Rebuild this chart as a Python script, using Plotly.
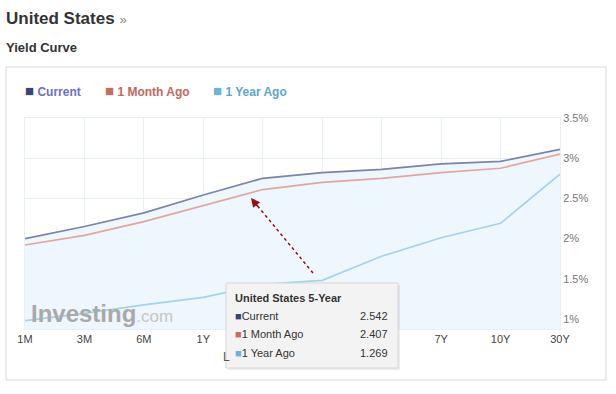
import plotly.graph_objects as go

# ---- data ----
maturities = ["1M", "3M", "6M", "1Y", "2Y", "3Y", "5Y", "7Y", "10Y", "30Y"]
current = [2.00, 2.15, 2.32, 2.542, 2.75, 2.82, 2.86, 2.93, 2.96, 3.11]
month_ago = [1.92, 2.04, 2.21, 2.407, 2.61, 2.70, 2.75, 2.82, 2.875, 3.05]
year_ago = [0.98, 1.07, 1.175, 1.269, 1.43, 1.48, 1.78, 2.01, 2.19, 2.80]
y_ticks = [1.0, 1.5, 2.0, 2.5, 3.0, 3.5]
y_tick_labels = ["1%", "1.5%", "2%", "2.5%", "3%", "3.5%"]
series_names = ["Current", "1 Month Ago", "1 Year Ago"]
tooltip_title = "United States 5-Year"
tooltip_index = 3

W, H = 616, 394
L, R, T, B = 25, 560, 118, 329
FONT = "Liberation Sans, Arial, sans-serif"


def px(x):
    return (x - L) / (R - L)


def py(y):
    return (B - y) / (B - T)


line_cols = ["#7c82aa", "#e2a69e", "#a3d3eb"]
square_cols = ["#3c4377", "#c96b5e", "#68b4da"]
text_cols = ["#6b72c4", "#c4685b", "#5ca8cc"]

fig = go.Figure()
fig.add_trace(go.Scatter(x=maturities, y=current, mode="lines", fill="tozeroy",
                         fillcolor="#eef7fe", line=dict(color=line_cols[0], width=1.7),
                         name=series_names[0], hoverinfo="skip"))
fig.add_trace(go.Scatter(x=maturities, y=month_ago, mode="lines",
                         line=dict(color=line_cols[1], width=1.7),
                         name=series_names[1], hoverinfo="skip"))
fig.add_trace(go.Scatter(x=maturities, y=year_ago, mode="lines",
                         line=dict(color=line_cols[2], width=1.7),
                         name=series_names[2], hoverinfo="skip"))

annotations = []
shapes = []

# page titles
annotations.append(dict(xref="paper", yref="paper", x=px(4), y=py(18), xanchor="left", yanchor="middle",
                        text="<b>United States</b> <span style='color:#888;font-size:13px'>»</span>",
                        showarrow=False, font=dict(family=FONT, size=17, color="#333")))
annotations.append(dict(xref="paper", yref="paper", x=px(4), y=py(47), xanchor="left", yanchor="middle",
                        text="<b>Yield Curve</b>", showarrow=False,
                        font=dict(family=FONT, size=13, color="#333")))

# outer box
shapes.append(dict(type="rect", xref="paper", yref="paper", x0=px(6), x1=px(606), y0=py(380), y1=py(67),
                   line=dict(color="#d9d9d9", width=1), fillcolor="rgba(0,0,0,0)", layer="below"))

# custom legend
leg_x = [23, 103, 211]
for i, name in enumerate(series_names):
    annotations.append(dict(xref="paper", yref="paper", x=px(leg_x[i]), y=py(91), xanchor="left",
                            yanchor="middle", showarrow=False,
                            text=f"<span style='color:{square_cols[i]};font-size:15px'>■</span> <b>{name}</b>",
                            font=dict(family=FONT, size=12, color=text_cols[i])))

# watermark
annotations.append(dict(xref="paper", yref="paper", x=px(29), y=py(313), xanchor="left", yanchor="middle",
                        showarrow=False,
                        text="<b>Investing</b><span style='font-size:17px;color:#c6c6c6'>.com</span>",
                        font=dict(family=FONT, size=24, color="#a9a9a9")))

# partially hidden axis caption (only its first letter shows beside the tooltip)
annotations.append(dict(xref="paper", yref="paper", x=px(221), y=py(357), xanchor="left", yanchor="middle",
                        showarrow=False, text="L",
                        font=dict(family=FONT, size=12, color="#555")))

# dashed arrow
shapes.append(dict(type="line", xref="paper", yref="paper", x0=px(313), y0=py(273), x1=px(256), y1=py(204),
                   line=dict(color="#9b0d0d", width=1.5, dash="dot"), layer="above"))
annotations.append(dict(xref="paper", yref="paper", x=px(251), y=py(198), ax=8, ay=10, axref="pixel",
                        ayref="pixel", text="", showarrow=True, arrowhead=2, arrowsize=1.2,
                        arrowwidth=1.5, arrowcolor="#9b0d0d", standoff=0))

# tooltip box (shadow + box)
shapes.append(dict(type="rect", xref="paper", yref="paper", x0=px(228), x1=px(400), y0=py(370), y1=py(285),
                   line=dict(width=0), fillcolor="rgba(0,0,0,0.07)", layer="above"))
shapes.append(dict(type="rect", xref="paper", yref="paper", x0=px(226), x1=px(398), y0=py(368), y1=py(283),
                   line=dict(color="#d6d6d6", width=1), fillcolor="#f3f3f3", layer="above"))
annotations.append(dict(xref="paper", yref="paper", x=px(233), y=py(298), xanchor="left", yanchor="middle",
                        text=f"<b>{tooltip_title}</b>", showarrow=False,
                        font=dict(family=FONT, size=11, color="#333")))
series_vals = [current, month_ago, year_ago]
row_y = [316, 334, 353]
for i, name in enumerate(series_names):
    annotations.append(dict(xref="paper", yref="paper", x=px(233), y=py(row_y[i]), xanchor="left",
                            yanchor="middle", showarrow=False,
                            text=f"<span style='color:{square_cols[i]}'>■</span>{name}",
                            font=dict(family=FONT, size=11, color="#333")))
    annotations.append(dict(xref="paper", yref="paper", x=px(390), y=py(row_y[i]), xanchor="right",
                            yanchor="middle", showarrow=False,
                            text=f"{series_vals[i][tooltip_index]:.3f}",
                            font=dict(family=FONT, size=11, color="#333")))

grid = "#e7eff9"
fig.update_layout(
    width=W, height=H,
    margin=dict(l=L, r=W - R, t=T, b=H - B),
    paper_bgcolor="white", plot_bgcolor="white",
    showlegend=False,
    annotations=annotations, shapes=shapes,
    font=dict(family=FONT),
    xaxis=dict(type="category", range=[0, len(maturities) - 1], showgrid=True, gridcolor=grid,
               showline=True, linecolor=grid, mirror=True, zeroline=False, ticks="",
               tickfont=dict(family=FONT, size=11, color="#444")),
    yaxis=dict(side="right", range=[0.875, 3.5], tickvals=y_ticks, ticktext=y_tick_labels,
               showgrid=True, gridcolor=grid, showline=True, linecolor=grid, mirror=True,
               zeroline=False, ticks="", tickfont=dict(family=FONT, size=11, color="#777")),
)

fig.write_html("out.html", config={"displayModeBar": False},
               post_script="document.body.style.margin='0';document.body.style.overflow='hidden';")
